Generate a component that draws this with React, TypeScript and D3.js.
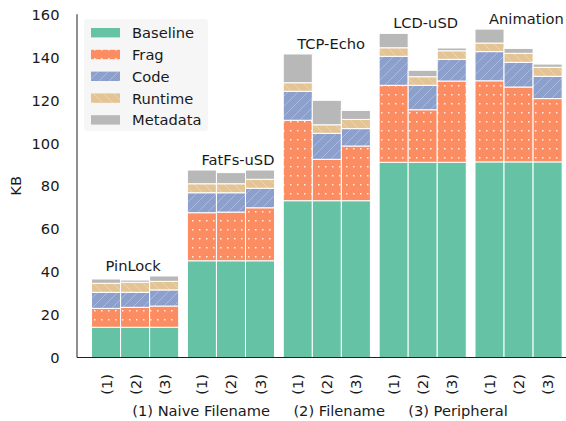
import React from "react";
import * as d3 from "d3";

const groups = ["PinLock", "FatFs-uSD", "TCP-Echo", "LCD-uSD", "Animation"];
const variants = ["(1)", "(2)", "(3)"];
const seriesNames = ["Baseline", "Frag", "Code", "Runtime", "Metadata"];
const seriesColors = ["#66c2a5", "#fc8d62", "#8da0cb", "#e5c494", "#b8b8b8"];
const seriesHatch = ["none", "dots", "fwd", "back", "none"];

// per bar increments (KB), order: group-major, variant-minor
const baseline = [14.1, 14.1, 14.1, 45.1, 45.1, 45.1, 73.1, 73.1, 73.1, 91.0, 91.0, 91.0, 91.2, 91.2, 91.2];
const frag = [8.8, 9.3, 9.9, 22.4, 22.7, 24.7, 37.5, 19.3, 25.5, 35.9, 24.5, 37.9, 37.8, 34.9, 29.5];
const code = [7.5, 7.0, 7.5, 9.3, 9.0, 9.1, 13.5, 12.1, 8.1, 13.5, 11.4, 10.1, 13.6, 11.5, 10.4];
const runtime = [4.2, 4.7, 4.0, 4.2, 4.2, 4.2, 4.0, 4.0, 4.3, 4.0, 4.0, 4.0, 4.0, 4.2, 4.2];
const metadata = [2.0, 1.0, 2.5, 6.4, 5.2, 4.3, 13.4, 11.4, 4.2, 6.7, 3.0, 1.3, 6.5, 2.3, 1.5];

const yTicks = [0, 20, 40, 60, 80, 100, 120, 140, 160];
const xLabel = "(1) Naive Filename     (2) Filename     (3) Peripheral";

const W = 566;
const H = 421;
const FONT = "DejaVu Sans, sans-serif";
const FS = 14.67;
const PERIOD = 3.3;

export default function App() {
  if (typeof document !== "undefined") document.body.style.margin = "0";
  const x = d3.scaleLinear().domain([-1, 16.2]).range([77, 77 + 17.2 * 29.05]);
  const y = d3.scaleLinear().domain([0, 160]).range([357.5, 14.3]);
  const series = [baseline, frag, code, runtime, metadata];

  const bars: any[] = [];
  const ticks: any[] = [];
  groups.forEach((g, gi) => {
    variants.forEach((v, vi) => {
      const idx = gi * 3 + vi;
      const cx = gi * PERIOD + vi;
      let acc = 0;
      series.forEach((s, si) => {
        const y0 = acc;
        const y1 = acc + s[idx];
        acc = y1;
        bars.push({ key: `${idx}-${si}`, x0: x(cx - 0.5), x1: x(cx + 0.5), y0: y(y0), y1: y(y1), si });
      });
      ticks.push({ key: idx, x: x(cx), label: v });
    });
  });

  const groupLabels = groups.map((g, gi) => {
    const tops = [0, 1, 2].map((vi) => series.reduce((a, s) => a + s[gi * 3 + vi], 0));
    return { g, x: x(gi * PERIOD) - 0.5, y: y(d3.max(tops) as number) - 5 };
  });

  const patternId = (si: number) => `hatch-${si}`;

  return (
    <svg width={W} height={H} style={{ display: "block", fontFamily: FONT }}>
      <defs>
        {seriesNames.map((n, si) => {
          const h = seriesHatch[si];
          if (h === "none") return null;
          if (h === "dots")
            return (
              <pattern key={si} id={patternId(si)} patternUnits="userSpaceOnUse" width={7} height={9}>
                <rect width={7} height={9} fill={seriesColors[si]} />
                <rect x={3} y={4} width={1.5} height={1.5} fill="#fff" opacity={0.85} />
              </pattern>
            );
          const fwd = h === "fwd";
          return (
            <pattern key={si} id={patternId(si)} patternUnits="userSpaceOnUse" width={10} height={10}>
              <rect width={10} height={10} fill={seriesColors[si]} />
              {fwd ? (
                <path d="M-1,11 L11,-1 M-6,6 L6,-6 M4,16 L16,4" stroke="#fff" strokeOpacity={0.35} strokeWidth={0.8} />
              ) : (
                <path d="M-1,-1 L11,11 M4,-6 L16,6 M-6,4 L6,16" stroke="#fff" strokeOpacity={0.35} strokeWidth={0.8} />
              )}
            </pattern>
          );
        })}
      </defs>

      {bars.map((b) => (
        <rect
          key={b.key}
          x={b.x0}
          y={b.y1}
          width={b.x1 - b.x0}
          height={Math.max(0, b.y0 - b.y1)}
          fill={seriesHatch[b.si] === "none" ? seriesColors[b.si] : `url(#${patternId(b.si)})`}
          stroke="#fff"
          strokeWidth={1}
        />
      ))}

      {/* spines */}
      <line x1={77} x2={77} y1={14.3} y2={357.5} stroke="#444" strokeWidth={1.2} />
      <line x1={77} x2={W} y1={357.5} y2={357.5} stroke="#222" strokeWidth={1.2} />

      {yTicks.map((t) => (
        <text key={t} x={59.5} y={y(t)} textAnchor="end" dominantBaseline="central" fontSize={FS} fill="#1a1a1a">
          {t}
        </text>
      ))}
      <text transform={`translate(15,${(14.3 + 357.5) / 2}) rotate(-90)`} textAnchor="middle" dominantBaseline="central" fontSize={FS} fill="#1a1a1a">
        KB
      </text>

      {ticks.map((t) => (
        <text key={t.key} transform={`translate(${t.x},374) rotate(-90)`} textAnchor="end" dominantBaseline="central" fontSize={FS} fill="#1a1a1a">
          {t.label}
        </text>
      ))}
      <text x={(77 + 563) / 2} y={416} textAnchor="middle" fontSize={FS} fill="#1a1a1a" style={{ whiteSpace: "pre" }}>
        {xLabel}
      </text>

      {groupLabels.map((l) => (
        <text key={l.g} x={l.x} y={l.y} fontSize={FS} fill="#1a1a1a">
          {l.g}
        </text>
      ))}

      {/* legend */}
      <rect x={84} y={19} width={124} height={112} rx={3} fill="#f5f5f5" opacity={0.9} />
      {seriesNames.map((n, si) => {
        const cy = 32.7 + si * 21.8;
        return (
          <g key={n}>
            <rect
              x={91}
              y={cy - 4.7}
              width={29}
              height={9.4}
              fill={seriesHatch[si] === "none" ? seriesColors[si] : `url(#${patternId(si)})`}
            />
            <text x={132} y={cy} dominantBaseline="central" fontSize={FS} fill="#1a1a1a">
              {n}
            </text>
          </g>
        );
      })}
    </svg>
  );
}
